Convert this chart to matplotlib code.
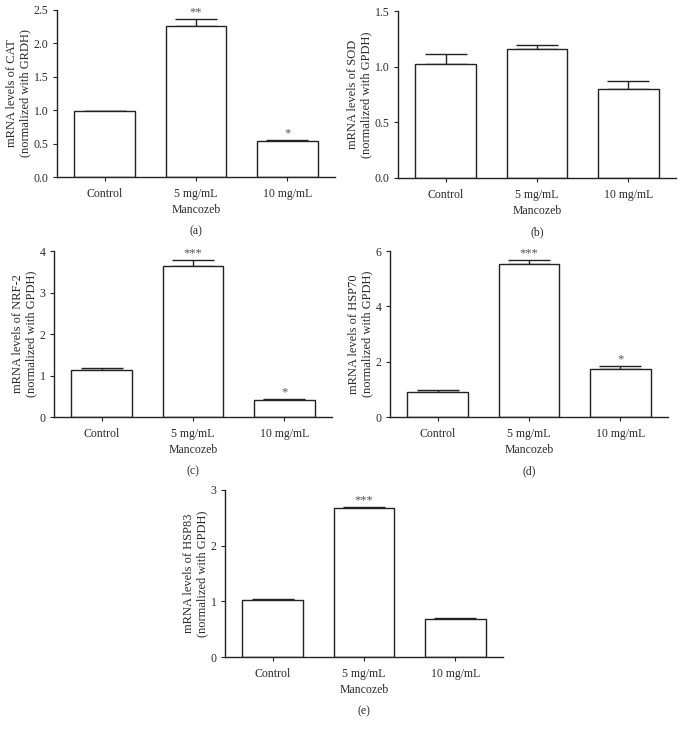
import matplotlib
matplotlib.use("Agg")
import matplotlib.pyplot as plt

plt.rcParams['font.family'] = ['Liberation Serif', 'DejaVu Serif']

categories = ["Control", "5 mg/mL", "10 mg/mL"]

cat_vals = [0.99, 2.26, 0.54]
cat_err = [0.005, 0.11, 0.015]
cat_stars = ["", "**", "*"]

sod_vals = [1.02, 1.16, 0.80]
sod_err = [0.09, 0.035, 0.07]
sod_stars = ["", "", ""]

nrf_vals = [1.14, 3.64, 0.42]
nrf_err = [0.04, 0.14, 0.02]
nrf_stars = ["", "***", "*"]

hsp70_vals = [0.92, 5.52, 1.75]
hsp70_err = [0.04, 0.16, 0.10]
hsp70_stars = ["", "***", "*"]

hsp83_vals = [1.03, 2.67, 0.69]
hsp83_err = [0.015, 0.02, 0.015]
hsp83_stars = ["", "***", ""]

W, H = 680, 730
fig = plt.figure(figsize=(W / 100, H / 100), dpi=100)

TXT = "#2a2a2a"
EDGE = "#222222"
FS = 8.5


def px_axes(left, top, bottom, width=278):
    return fig.add_axes([left / W, 1 - bottom / H, width / W, (bottom - top) / H])


def panel(ax, vals, errs, stars, ylim, yticks, yticklabels, ylabel, letter):
    x = list(range(len(categories)))
    ax.bar(x, vals, width=0.66, color="white", edgecolor=EDGE, linewidth=1.0, zorder=2)
    ax.errorbar(x, vals, yerr=[[0] * len(errs), errs], fmt="none", ecolor=EDGE,
                elinewidth=1.0, capsize=15, capthick=1.0, zorder=1)
    for xi, v, e, s in zip(x, vals, errs, stars):
        if s:
            ax.text(xi, v + e + ylim[1] * 0.003, s, ha="center", va="bottom",
                    fontsize=9, color="#555555")
    ax.set_xlim(-0.52, 2.52)
    ax.set_ylim(*ylim)
    ax.set_yticks(yticks)
    ax.set_yticklabels(yticklabels)
    ax.set_xticks(x)
    ax.set_xticklabels(categories)
    for sp in ["top", "right"]:
        ax.spines[sp].set_visible(False)
    for sp in ["left", "bottom"]:
        ax.spines[sp].set_color(EDGE)
        ax.spines[sp].set_linewidth(1.0)
    ax.tick_params(axis="both", labelsize=FS, colors=EDGE, labelcolor=TXT,
                   length=3, width=0.8)
    ax.tick_params(axis="x", pad=5)
    ax.tick_params(axis="y", pad=3)
    ax.set_xlabel("Mancozeb", fontsize=FS, color=TXT, labelpad=3)
    ax.set_ylabel(ylabel, fontsize=9, color=TXT, labelpad=2, linespacing=1.1)
    ax.text(0.5, -0.29, letter, transform=ax.transAxes, ha="center", va="top",
            fontsize=FS, color=TXT)


ax_a = px_axes(57, 10, 177)
panel(ax_a, cat_vals, cat_err, cat_stars, (0, 2.5), [0, 0.5, 1.0, 1.5, 2.0, 2.5],
      ["0.0", "0.5", "1.0", "1.5", "2.0", "2.5"],
      "mRNA levels of CAT\n(normalized with GRDH)", "(a)")

ax_b = px_axes(398, 11, 178)
panel(ax_b, sod_vals, sod_err, sod_stars, (0, 1.5), [0, 0.5, 1.0, 1.5],
      ["0.0", "0.5", "1.0", "1.5"],
      "mRNA levels of SOD\n(normalized with GPDH)", "(b)")

ax_c = px_axes(54, 251, 417)
panel(ax_c, nrf_vals, nrf_err, nrf_stars, (0, 4), [0, 1, 2, 3, 4],
      ["0", "1", "2", "3", "4"],
      "mRNA levels of NRF-2\n(normalized with GPDH)", "(c)")

ax_d = px_axes(390, 251, 417)
panel(ax_d, hsp70_vals, hsp70_err, hsp70_stars, (0, 6), [0, 2, 4, 6],
      ["0", "2", "4", "6"],
      "mRNA levels of HSP70\n(normalized with GPDH)", "(d)")

ax_e = px_axes(225, 490, 657)
panel(ax_e, hsp83_vals, hsp83_err, hsp83_stars, (0, 3), [0, 1, 2, 3],
      ["0", "1", "2", "3"],
      "mRNA levels of HSP83\n(normalized with GPDH)", "(e)")

fig.savefig("out.png", dpi=100, facecolor="white")
